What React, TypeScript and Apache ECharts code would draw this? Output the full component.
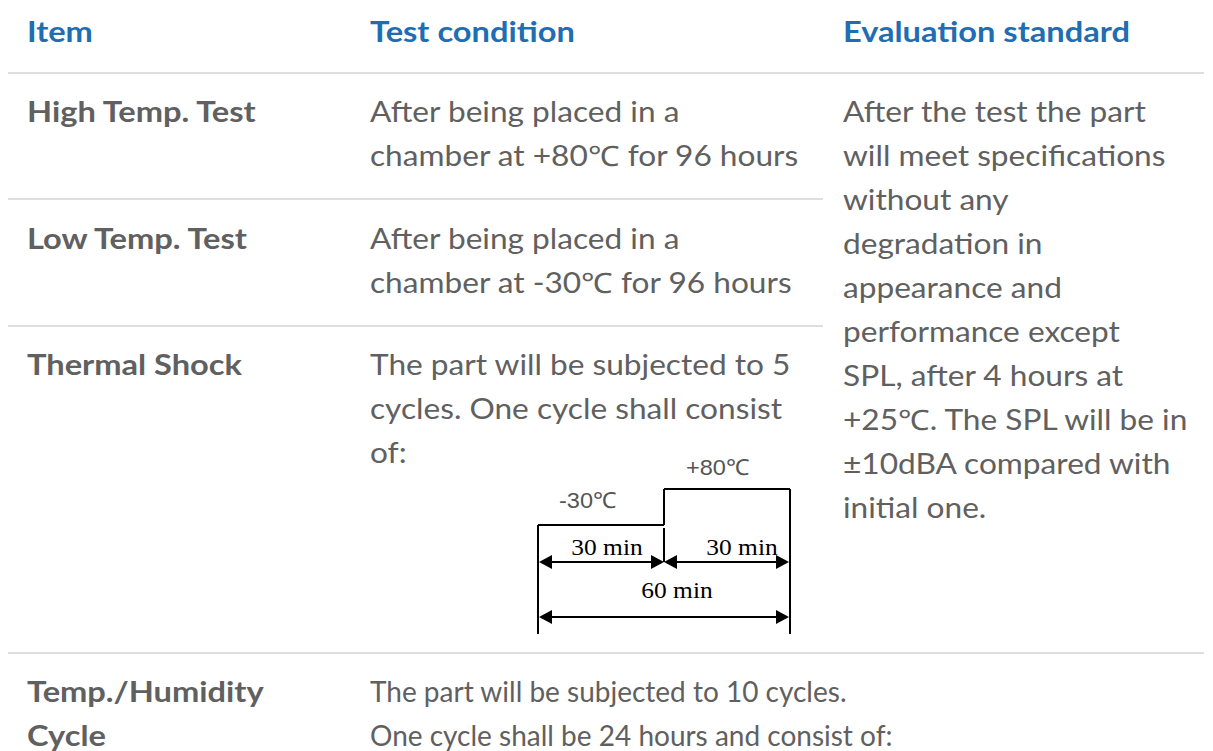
import React, { useEffect, useRef } from "react";
import * as echarts from "echarts";

const headers = ["Item", "Test condition", "Evaluation standard"];
const itemLines = [["High Temp. Test"], ["Low Temp. Test"], ["Thermal Shock"], ["Temp./Humidity", "Cycle"]];
const conditionLines = [
  ["After being placed in a", "chamber at +80℃ for 96 hours"],
  ["After being placed in a", "chamber at -30℃ for 96 hours"],
  ["The part will be subjected to 5", "cycles. One cycle shall consist", "of:"],
  ["The part will be subjected to 10 cycles.", "One cycle shall be 24 hours and consist of:"],
];
const standardLines = [
  "After the test the part",
  "will meet specifications",
  "without any",
  "degradation in",
  "appearance and",
  "performance except",
  "SPL, after 4 hours at",
  "+25℃. The SPL will be in",
  "±10dBA compared with",
  "initial one.",
];
const rowTops = [111, 238, 364, 691];
const diagramLabels = ["-30℃", "+80℃", "30 min", "30 min", "60 min"];

const BLUE = "#1f6db3";
const GRAY = "#606060";
const FONT = "Lato";
const LH = 44;
const CONDITION_SCALE = [1.13, 1.13, 1.13, 1.0];

function arrow(x1: number, x2: number, y: number): any[] {
  const L = 13, H = 7;
  return [
    { type: "line", shape: { x1: x1 + 4, y1: y, x2: x2 - 4, y2: y }, style: { stroke: "#000", lineWidth: 2 } },
    { type: "polygon", shape: { points: [[x1, y], [x1 + L, y - H], [x1 + L, y + H]] }, style: { fill: "#000" } },
    { type: "polygon", shape: { points: [[x2, y], [x2 - L, y - H], [x2 - L, y + H]] }, style: { fill: "#000" } },
  ];
}

export default function App() {
  const ref = useRef<HTMLDivElement>(null);
  useEffect(() => {
    if (!ref.current) return;
    const chart = echarts.init(ref.current, null, { renderer: "svg" });
    const els: any[] = [];
    const txt = (text: string, x: number, y: number, opts: any = {}, sx = 1.13) =>
      els.push({
        type: "text",
        x, y, scaleX: sx,
        style: {
          text, x: 0, y: 0,
          fontFamily: FONT, fontSize: 28, fontWeight: "normal",
          fill: GRAY, align: "left", verticalAlign: "middle",
          ...opts,
        },
      });
    const colX = [27, 370, 843];
    headers.forEach((h, i) => txt(h, colX[i], 31, { fill: BLUE, fontWeight: "bold" }, 1.165));
    // separators
    const sep = (y: number, x2: number) =>
      els.push({ type: "line", shape: { x1: 8, y1: y, x2, y2: y }, style: { stroke: "#dedede", lineWidth: 2 } });
    sep(73, 1204);
    sep(199, 823);
    sep(326, 823);
    sep(653, 1204);
    itemLines.forEach((lines, r) =>
      lines.forEach((l, k) => txt(l, colX[0], rowTops[r] + k * LH, { fontWeight: "bold" }, 1.165))
    );
    conditionLines.forEach((lines, r) =>
      lines.forEach((l, k) => txt(l, colX[1], rowTops[r] + k * LH, {}, CONDITION_SCALE[r]))
    );
    standardLines.forEach((l, k) => txt(l, colX[2], rowTops[0] + k * LH));

    // thermal shock diagram
    const ln = (x1: number, y1: number, x2: number, y2: number) =>
      els.push({ type: "line", shape: { x1, y1, x2, y2 }, style: { stroke: "#000", lineWidth: 2 } });
    ln(538, 525, 538, 634);
    ln(538, 525, 664, 525);
    ln(664, 489, 664, 525);
    ln(664, 489, 790, 489);
    ln(790, 489, 790, 634);
    ln(664, 528, 664, 562);
    els.push(...arrow(539, 664, 562));
    els.push(...arrow(664, 789, 562));
    els.push(...arrow(539, 789, 617));
    txt(diagramLabels[0], 559, 500, { fontFamily: "Liberation Sans", fontSize: 22, fill: "#555" }, 1.07);
    txt(diagramLabels[1], 686, 467, { fontFamily: "Liberation Sans", fontSize: 22, fill: "#555" }, 1.07);
    txt(diagramLabels[2], 607, 547, { fontFamily: "Liberation Serif", fontSize: 24, fill: "#000", align: "center" }, 1.06);
    txt(diagramLabels[3], 742, 547, { fontFamily: "Liberation Serif", fontSize: 24, fill: "#000", align: "center" }, 1.06);
    txt(diagramLabels[4], 677, 590, { fontFamily: "Liberation Serif", fontSize: 24, fill: "#000", align: "center" }, 1.06);

    chart.setOption({ animation: false, backgroundColor: "#fff", graphic: { elements: els } });
    return () => chart.dispose();
  }, []);
  return <div ref={ref} style={{ position: "absolute", left: 0, top: 0, width: 1213, height: 751 }} />;
}
